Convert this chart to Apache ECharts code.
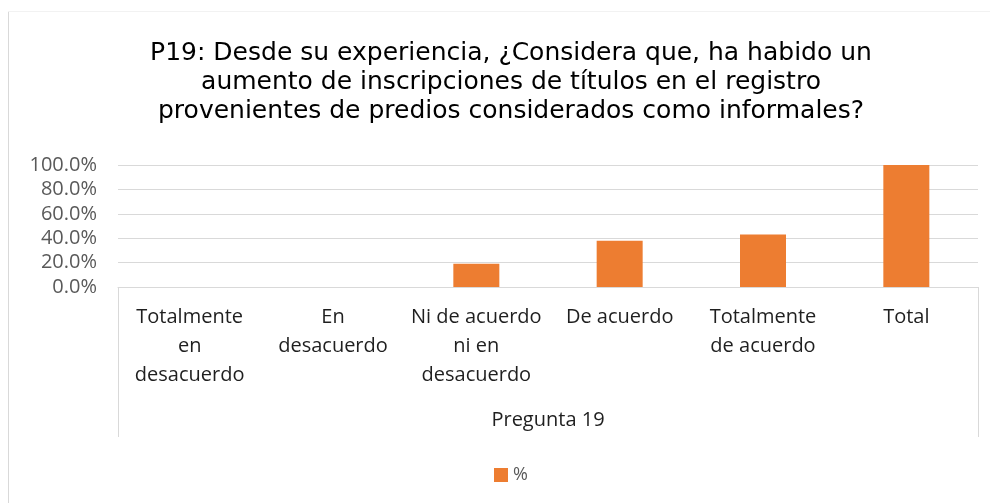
<!DOCTYPE html>
<html>
<head>
<meta charset="utf-8">
<script src="https://cdn.jsdelivr.net/npm/echarts@6/dist/echarts.min.js"></script>
<style>
  html, body { margin: 0; padding: 0; background: #fff; }
  #main { width: 990px; height: 503px; }
</style>
</head>
<body>
<div id="main"></div>
<script>
// datos
const categorias = ['Totalmente\nen\ndesacuerdo', 'En\ndesacuerdo', 'Ni de acuerdo\nni en\ndesacuerdo', 'De acuerdo', 'Totalmente\nde acuerdo', 'Total']
const valores = [0, 0, 0.19, 0.38, 0.43, 1]
const grupo = ['Pregunta 19']
const titulo = 'P19: Desde su experiencia, ¿Considera que, ha habido un\naumento de inscripciones de títulos en el registro\nprovenientes de predios considerados como informales?'

const chart = echarts.init(document.getElementById('main'))

const option = {
  animation: false,
  title: {
    text: titulo,
    left: 506,
    textAlign: 'center',
    top: 34,
    textStyle: {
      fontFamily: 'DejaVu Sans',
      fontSize: 25,
      fontWeight: 'normal',
      color: '#000',
      lineHeight: 29
    }
  },
  // borde del area del grafico
  graphic: [
    { type: 'line', shape: { x1: 8.5, y1: 11, x2: 8.5, y2: 503 }, style: { stroke: '#d9d9d9', lineWidth: 1 } },
    { type: 'line', shape: { x1: 8, y1: 11.5, x2: 990, y2: 11.5 }, style: { stroke: '#f2f2f2', lineWidth: 1 } }
  ],
  legend: {
    left: 489,
    top: 461,
    itemWidth: 14,
    itemHeight: 14,
    itemGap: 6,
    icon: 'rect',
    textStyle: { fontFamily: 'Open Sans', fontSize: 18, color: '#595959' },
    data: ['%']
  },
  grid: { left: 118, right: 12, top: 165, bottom: 216 },
  xAxis: [
    {
      type: 'category',
      data: categorias,
      axisLine: { lineStyle: { color: '#d9d9d9', width: 1 } },
      axisTick: { show: false },
      axisLabel: {
        interval: 0,
        margin: 16,
        fontFamily: 'Open Sans',
        fontSize: 20,
        lineHeight: 29,
        color: '#1f1f1f'
      }
    },
    {
      // eje de grupo (multinivel)
      type: 'category',
      data: grupo,
      position: 'bottom',
      axisLine: { show: false },
      axisTick: { show: true, length: 150, lineStyle: { color: '#d9d9d9', width: 1 } },
      axisLabel: {
        margin: 121,
        fontFamily: 'Open Sans',
        fontSize: 20,
        lineHeight: 24,
        color: '#1f1f1f'
      }
    }
  ],
  yAxis: {
    type: 'value',
    min: 0,
    max: 1,
    interval: 0.2,
    axisLine: { show: false },
    axisTick: { show: false },
    splitLine: { lineStyle: { color: '#d9d9d9', width: 1 } },
    axisLabel: {
      margin: 21,
      fontFamily: 'Open Sans',
      fontSize: 20,
      color: '#595959',
      formatter: v => (v * 100).toFixed(1) + '%'
    }
  },
  series: [
    {
      name: '%',
      type: 'bar',
      data: valores,
      xAxisIndex: 0,
      barWidth: 46,
      itemStyle: { color: '#ED7D31' }
    }
  ]
}

chart.setOption(option)
</script>
</body>
</html>
